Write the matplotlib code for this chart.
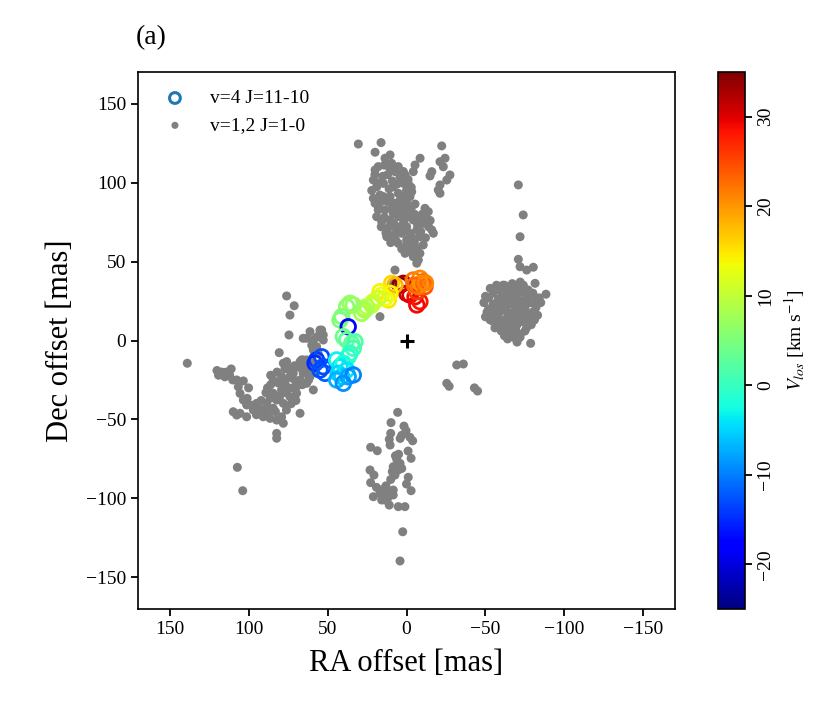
import matplotlib
matplotlib.use("Agg")
import matplotlib.pyplot as plt
from matplotlib import cm, colors as mcolors
import numpy as np

plt.rcParams['font.family'] = ['Liberation Serif', 'DejaVu Serif']
plt.rcParams['mathtext.fontset'] = 'stix'

# ---- data: v=1,2 J=1-0 (grey dots), RA/Dec offsets in mas ----
north_ra = [30.5, 16.1, 19.9, 13.6, 10.4, -22.3, -24.4, -21.2, -23.3, -27.5, -25.5, -21.2, -21.2, -20.1, -16.0, -14.9,
            -8.6, -5.4, -4.3, 19.9, 17.9, 21.0, 18.9, 16.8, 19.9, 17.9, 18.9, 15.7, 12.5, 12.5,
            10.4, 7.3, 4.1, 2.0, 8.4, 5.2, 10.4, 7.3, 3.0, 8.4, 5.2, 10.4, 2.0, 6.2, 3.0, 5.2, -0.1, -2.2, 0.9, -4.3,
            -7.5, -8.5, -6.5, -10.6, -3.3, -1.1, -3.3, -2.2, -0.1, -11.7, -13.8, -12.8, -10.6, -16.0, -17.0, -6.5,
            9.4, 5.2, 0.9, 7.3, 14.6, 13.6, 14.6, 2.0, -0.1, -4.3, -8.5, -5.4, -6.5, 12.0, 15.0, 0.0, 4.0, 9.0, -2.0, 11.0, 7.0,
            20, 22, 21, 17, 16, 18, 14, 16, 13, 11, 9, 6, 3, 1, 6, 4, 8, 4, 1, -1, -3, -5, -7, -8, -9, -12, -14, -2,
            0, 3, -3, -5, 8, 10, -1, 2, 12, 14, -3, -10, -15]
north_dec = [124.4, 125.3, 119.2, 115.4, 117.5, 123.2, 115.4, 113.2, 110.0, 104.8, 101.6, 98.5, 93.2, 95.3, 106.9, 104.2,
             115.4, 111.1, 106.9, 108.0, 110.1, 101.6, 97.3, 92.1, 86.9, 82.7, 78.4, 75.2, 70.0, 65.7,
             109.0, 106.9, 103.7, 99.5, 97.3, 93.2, 91.1, 86.9, 84.8, 80.6, 78.4, 76.3, 74.2, 70.0, 67.9, 61.5, 63.6, 59.4, 55.2, 53.1,
             51.0, 55.2, 58.4, 60.5, 65.7, 99.5, 94.2, 91.1, 86.9, 83.7, 81.6, 77.4, 74.2, 70.0, 67.9, 70.0,
             112.2, 110.1, 104.8, 44.6, 91.1, 82.7, 99.5, 80.6, 72.1, 76.3, 65.7, 86.4, 48.9, 88.0, 104.0, 95.0, 89.0, 84.0, 80.0, 72.0, 64.0,
             105, 95, 90, 100, 88, 85, 78, 72, 68, 96, 101, 99, 91, 89, 83, 81, 74, 72, 77, 83, 84, 80, 73, 78, 69, 65, 72, 68,
             60, 58, 56, 62, 67, 62, 102, 107, 105, 111, 97, 80, 76]

east_ra = [-70.8, -73.9, -71.9, -70.8, -71.9, -76.1, -80.3, -81.4, -88.3, -78.6, -71.9, -31.8, -36.0, -25.5, -27.0, -43.0, -45.0,
           -49, -52, -55, -58, -62, -66, -70, -74, -77, -80, -84, -52, -55, -58, -61, -64, -67, -70, -73, -76, -79, -82,
           -50, -54, -57, -60, -63, -66, -69, -72, -75, -78, -81, -55, -58, -61, -64, -67, -70, -73, -76, -79,
           -60, -63, -66, -69, -72, -75, -62, -68, -65, -62, -68, -71, -74,
           -50, -53, -57, -60, -64, -67, -72, -75, -78, -82, -85, -51, -53, -56, -59, -62, -65, -68, -71, -74, -77, -80,
           -83, -64, -70, -58, -66, -73, -76, -61]
east_dec = [98.5, 79.5, 65.7, 51.4, 46.7, 44.6, 46.4, 36.2, 29.3, -1.8, 2.1, -15.5, -14.9, -27.1, -29.0, -30.0, -32.0,
            24, 27, 30, 33, 35, 34, 33, 35, 32, 30, 27, 20, 23, 26, 29, 27, 30, 28, 25, 27, 24, 21,
            15, 17, 20, 22, 19, 23, 21, 18, 20, 16, 13, 12, 14, 10, 15, 13, 10, 12, 8, 10,
            6, 8, 5, 7, 4, 6, 3, 2, 17, 24, 26, 14, 22,
            28, 33, 35, 31, 32, 36, 37, 30, 29, 25, 24, 18, 13, 8, 18, 13, 10, 18, 24, 16, 13, 18,
            16, 1, -1, 10, 29, 31, 23, 35]

sw_ra = [75.9, 71.1, 73.8, 74.4, 80.6, 138.8, 120, 117, 114, 119, 115, 118,
         107.5, 103.3, 106.5, 105.4, 103.3, 100.9, 101.2, 94.9, 93.9, 109.7, 105.4, 101.2, 107.5,
         90.7, 86.4, 82.2, 78.0, 79.1, 82.2, 82.2, 67.4, 88.5, 86.4, 84.4, 88.5,
         84.4, 79.1, 75.9, 78.0, 71.7, 67.4, 63.2, 59.0, 61.1, 65.4, 75.9, 79.1, 84.4, 82.2, 73.8, 69.6, 78.0,
         75.9, 73.8, 69.6, 63.2, 60.0, 67.4, 65.4, 63.2, 59.0, 54.8, 53.7, 56.9, 59.0, 52.7, 66.4,
         107.1, 103.7, 65.4, 61.1, 54.8, 52.7, 63.2, 16.8, 9.4, 81, 77, 72, 88, 91, 97, 112,
         82, 86, 80, 76, 72, 70, 66, 62, 58, 56, 62, 68, 71, 74, 80, 85, 88, 83, 76, 73, 95, 98, 92, 100,
         110, 111, 70, 77, 86, 89, 57, 56, 60]
sw_dec = [28.2, 22.0, 16.1, 3.5, -7.7, -14.4, -19, -20, -20, -22, -23, -21,
          -25.0, -25.6, -29.3, -33.5, -37.7, -36.6, -40.8, -39.8, -41.9, -45.1, -46.1, -48.3, -47.2,
          -48.3, -49.3, -50.4, -52.4, -48.3, -58.8, -61.9, -46.1, -39.8, -36.6, -42.9, -42.9,
          -25.0, -22.9, -16.6, -14.4, -20.8, -25.0, -27.1, -31.3, -22.9, -20.8, -29.2, -31.3, -33.4, -37.7, -35.6, -33.4, -39.8,
          -13.4, -18.7, -29.2, -16.6, -12.3, -13.4, -12.3, 1.4, 0.3, 4.5, 6.6, -3.9, -6.0, 0.3, -12.3,
          -80.3, -95.1, 1.4, 5.6, 6.6, 3.5, -12.3, 15.1, 36.2, -27, -26, -24, -30, -44, -44, -22,
          -20, -28, -35, -33, -30, -26, -28, -25, -20, -15, -18, -17, -16, -23, -26, -36, -47, -45, -44, -40, -47, -41, -38, -30,
          -25, -18, -38, -18, -22, -33, 2, -8, -3]

south_ra = [5.6, 9.8, 1.6, 0.3, 10.0, 10.9, 10.4, -2.2, -3.9, 22.7, 18.5, -2.9,
            6.2, 4.1, 8.4, 5.2, 3.0, 7.3, 23.1, 20.6, 22.7, -1.1, 0.0, -2.9,
            14.7, 16.8, 12.5, 13.6, 8.4, 8.4, 10.9, 21.0, 15.7, 5.2, 1.0, 2.4, 4.1,
            7, 5, 6, 9, 10, 13, 19, 12, 10, 3, -1, 4]
south_dec = [-45.5, -52.0, -54.2, -57.1, -58.8, -62.6, -66.2, -61.3, -63.5, -67.6, -69.8, -74.6,
             -75.2, -77.8, -79.9, -82.0, -81.0, -85.2, -82.0, -85.2, -90.0, -86.6, -90.9, -95.1,
             -94.2, -96.8, -97.8, -101.0, -94.7, -97.8, -104.2, -98.9, -101.0, -105.2, -105.2, -121.1, -139.6,
             -73, -72, -79, -83, -88, -92, -93, -100, -96, -60, -70, -62]

# ---- data: v=4 J=11-10 (open circles), colour = V_los [km/s] ----
hv_ra = [4.1, 2.0, -0.1, -2.2, -5.4, -8.5, -6.5, -6.5,
         -4.3, -8.5, -10.6, -11.7, -7.5, -9.0, -5.0, -12.0,
         9.4, 7.3, 16.8, 15.7, 11.5, 10.4, 13.6, 17.9, 21.0,
         22.0, 25.2, 27.4, 26.3, 28.4, 35.8, 37.9, 33.7, 41.0, 42.1, 36.9,
         40.0, 37.9, 34.7, 32.6, 33.7, 35.8, 36.9,
         56.9, 53.7, 57.9, 52.7, 51.6, 54.8,
         44.2, 42.1, 40.0, 43.2, 41.0, 37.9, 36.9, 33.7, 44.2, 40.0]
hv_dec = [35.1, 36.2, 29.9, 28.8, 27.7, 24.6, 22.5, 30.9,
          38.3, 39.4, 37.2, 34.1, 34.1, 36.0, 35.0, 36.5,
          36.2, 35.1, 30.9, 28.8, 25.6, 29.9, 26.7, 26.7, 24.6,
          22.5, 21.4, 20.4, 19.3, 17.2, 23.6, 21.4, 22.5, 15.1, 13.0, 8.7,
          2.4, 0.3, -1.8, -0.8, -4.9, -8.1, -10.3,
          -12.3, -10.3, -14.4, -16.6, -20.8, -18.7,
          -12.3, -16.6, -14.4, -20.8, -22.9, -18.7, -22.9, -21.8, -25.0, -27.1]
hv_vlos = [35, 33, 31, 30, 29, 28, 29, 26,
           22, 21, 23, 24, 22, 20, 23, 21,
           16, 18, 14, 13, 15, 14, 13, 11, 11,
           10, 9, 9, 8, 8, 7, 6, 7, 5, 5, -18,
           4, 3, 3, 2, 1, 0, -1,
           -14, -13, -15, -13, -12, -13,
           -3, -4, -2, -5, -6, -4, -8, -10, -7, -9]

gray_ra = north_ra + east_ra + sw_ra + south_ra
gray_dec = north_dec + east_dec + sw_dec + south_dec

fig = plt.figure(figsize=(8.34, 7.19), dpi=100)
ax = fig.add_axes([138 / 834, 110 / 719, 537 / 834, 537 / 719])
cax = fig.add_axes([718 / 834, 110 / 719, 27 / 834, 537 / 719])

norm = mcolors.Normalize(vmin=-25, vmax=35)
cmap = plt.get_cmap('jet')
edge_cols = cmap(norm(np.array(hv_vlos)))

ax.scatter(gray_ra, gray_dec, s=42, color='#808080', edgecolors='none', zorder=2)
ax.scatter(hv_ra, hv_dec, s=110, facecolors='none', edgecolors=edge_cols,
           linewidths=2.0, zorder=3)
ax.plot([0], [0], marker='+', color='black', markersize=10, mew=2.2, zorder=4)

# legend handles
h1 = ax.scatter([], [], s=60, facecolors='none', edgecolors='#1f77b4', linewidths=2.2)
h2 = ax.scatter([], [], s=26, color='#808080', edgecolors='none')
ax.legend([h1, h2], ['v=4 J=11-10', 'v=1,2 J=1-0'], loc='upper left', frameon=False,
          fontsize=14, handletextpad=0.8, borderaxespad=0.5)

ax.set_xlim(170, -170)
ax.set_ylim(-170, 170)
ax.set_xticks([150, 100, 50, 0, -50, -100, -150])
ax.set_yticks([150, 100, 50, 0, -50, -100, -150])
ax.tick_params(labelsize=14, direction='out', length=5, width=1.3)
for s in ax.spines.values():
    s.set_linewidth(1.2)
ax.set_xlabel('RA offset [mas]', fontsize=22, labelpad=8)
ax.set_ylabel('Dec offset [mas]', fontsize=22, labelpad=8)

sm = cm.ScalarMappable(norm=norm, cmap=cmap)
cb = fig.colorbar(sm, cax=cax)
cb.set_ticks([-20, -10, 0, 10, 20, 30])
cax.tick_params(labelsize=14, length=5, width=1.3)
for lab in cax.get_yticklabels():
    lab.set_rotation(90)
    lab.set_va('center')
cb.outline.set_linewidth(1.2)
cb.set_label(r'$V_{los}$ [km s$^{-1}$]', fontsize=14, labelpad=6)

fig.text(136 / 834, 1 - 38 / 719, '(a)', fontsize=20, va='center', ha='left')

fig.savefig('out.png', dpi=100)
